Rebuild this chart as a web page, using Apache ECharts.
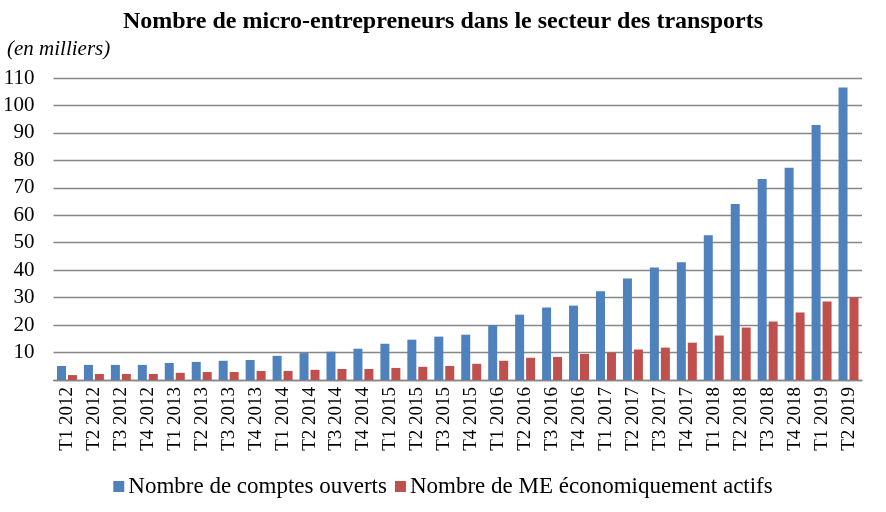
<!DOCTYPE html>
<html><head><meta charset="utf-8">
<script src="https://cdn.jsdelivr.net/npm/echarts@6/dist/echarts.min.js"></script>
<style>html,body{margin:0;padding:0;background:#fff}#c{width:886px;height:512px}</style>
</head><body><div id="c"></div>
<script>
const categories = ["T1 2012","T2 2012","T3 2012","T4 2012","T1 2013","T2 2013","T3 2013","T4 2013","T1 2014","T2 2014","T3 2014","T4 2014","T1 2015","T2 2015","T3 2015","T4 2015","T1 2016","T2 2016","T3 2016","T4 2016","T1 2017","T2 2017","T3 2017","T4 2017","T1 2018","T2 2018","T3 2018","T4 2018","T1 2019","T2 2019"];
const comptesOuverts = [5.1,5.5,5.5,5.5,6.2,6.6,7.0,7.3,8.8,9.8,10.3,11.4,13.2,14.7,15.8,16.5,19.9,23.8,26.4,27.1,32.3,37.0,41.0,42.9,52.7,64.1,73.2,77.3,92.9,106.5];
const meActifs = [1.8,2.2,2.2,2.2,2.6,2.9,2.9,3.3,3.3,3.7,4.0,4.0,4.4,4.8,5.1,5.9,7.0,8.1,8.4,9.5,10.0,11.1,11.8,13.6,16.2,19.1,21.3,24.6,28.6,30.1];
const seriesNames = ["Nombre de comptes ouverts","Nombre de ME économiquement actifs"];
const titleText = "Nombre de micro-entrepreneurs dans le secteur des transports";
const unitText = "(en milliers)";

const serif = "'Liberation Serif', 'DejaVu Serif', serif";
const chart = echarts.init(document.getElementById('c'), null, {renderer:'canvas'});
chart.setOption({
  animation:false,
  backgroundColor:'#fff',
  title:[
    {text:titleText,left:'center',top:5,textStyle:{fontFamily:serif,fontWeight:'bold',fontSize:24,color:'#000'}},
    {text:unitText,left:2,top:34,textStyle:{fontFamily:serif,fontStyle:'italic',fontWeight:'normal',fontSize:21,color:'#000'}}
  ],
  legend:{
    top:470,left:'center',itemWidth:11,itemHeight:11,itemGap:8,
    icon:'rect',
    textStyle:{fontFamily:serif,fontSize:23,color:'#000',padding:[0,0,0,-1]},
    data:seriesNames
  },
  grid:{left:53,right:24,top:78,bottom:132,containLabel:false},
  xAxis:{
    type:'category',data:categories,
    axisLine:{lineStyle:{color:'#868686',width:1.3}},
    axisTick:{show:false},
    axisLabel:{rotate:90,interval:0,fontFamily:serif,fontSize:19,color:'#000',margin:7}
  },
  yAxis:{
    type:'value',min:0,max:110,interval:10,
    axisLine:{show:false},axisTick:{show:false},
    splitLine:{lineStyle:{color:'#868686',width:1.3}},
    axisLabel:{fontFamily:serif,fontSize:21,color:'#000',margin:19,
      formatter:function(v){return v===0?'':String(v);}}
  },
  series:[
    {name:seriesNames[0],type:'bar',data:comptesOuverts,barWidth:9,barGap:'22%',itemStyle:{color:'#4F81BD'}},
    {name:seriesNames[1],type:'bar',data:meActifs,barWidth:9,itemStyle:{color:'#C0504D'}}
  ]
});
</script></body></html>
